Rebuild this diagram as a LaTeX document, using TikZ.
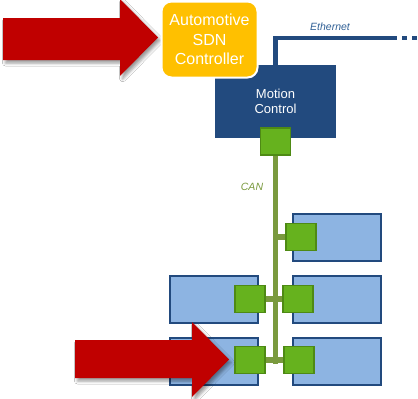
\documentclass[tikz,border=0pt]{standalone}
\usepackage{fontspec}
\setmainfont{Liberation Sans}
\usetikzlibrary{shadows.blur}
\definecolor{arrowred}{HTML}{C00000}
\definecolor{ctrlorange}{HTML}{FFC000}
\definecolor{darkblue}{HTML}{224A7E}
\definecolor{ecublue}{HTML}{8DB4E2}
\definecolor{portgreen}{HTML}{66B21E}
\definecolor{portedge}{HTML}{4E8A14}
\definecolor{busgreen}{HTML}{7A9A3E}
\definecolor{ethlabel}{HTML}{2F5F95}
\tikzset{
  bigarrow/.style={fill=arrowred, blur shadow={shadow xshift=2.5pt, shadow yshift=-3pt, shadow blur radius=3pt, shadow opacity=40}},
  ecu/.style={draw=darkblue, fill=ecublue, line width=1.5pt, minimum width=88pt, minimum height=47pt, inner sep=0pt},
  port/.style={draw=portedge, fill=portgreen, line width=1.5pt, minimum width=30pt, minimum height=27pt, inner sep=0pt},
  canbus/.style={draw=busgreen, line width=5.5pt},
  ethline/.style={draw=darkblue, line width=4.5pt},
}
\begin{document}
\begin{tikzpicture}[x=1pt, y=-1pt]
\useasboundingbox (0,0) rectangle (418,399);
\fill[white] (0,0) rectangle (418,399);

% Motion control unit and its Ethernet uplink
\node[fill=darkblue, minimum width=121pt, minimum height=73pt, inner sep=0pt,
      text=white, align=center, font=\fontsize{13}{15}\selectfont] (mc) at (275.5,101.5) {Motion\\Control};
\coordinate (ethcorner) at (275.5,38);
\coordinate (ethend) at (381,38);
\coordinate (ethout) at (418,38);
\draw[ethline] (mc.north) -- (ethcorner) -- (ethend);
\draw[ethline, dash pattern=on 16pt off 5pt on 5pt off 5pt on 5pt off 5pt] (ethend) -- (ethout);
\node[text=ethlabel, font=\fontsize{10.5}{12}\selectfont\itshape] (ethlbl) at (330,27) {Ethernet};

% CAN bus
\node[port] (p0) at (275.5,141.5) {};
\coordinate (busend) at (275.5,364);
\draw[canbus] (p0.south) -- (busend);
\node[text=busgreen, font=\fontsize{10.5}{12}\selectfont\itshape] (canlbl) at (252,187) {CAN};

% ECUs
\node[ecu] (r1) at (337,237.5) {};
\node[ecu] (r2) at (337,299.5) {};
\node[ecu] (r3) at (337,361.5) {};
\node[ecu] (l2) at (214,299.5) {};
\node[ecu] (l3) at (214,361.5) {};

% bus ports, with their stubs drawn underneath
\coordinate (s1) at (301,237);
\coordinate (s2r) at (298,299);
\coordinate (s2l) at (250,299);
\coordinate (s3l) at (250,360);
\coordinate (s3r) at (299,360);
\draw[canbus] (s1) -- (s1 -| p0.south);
\draw[canbus] (s2l) -- (s2r);
\draw[canbus] (s3l) -- (s3r);
\node[port] (q1) at (s1) {};
\node[port] (q2r) at (s2r) {};
\node[port] (q2l) at (s2l) {};
\node[port] (q3l) at (s3l) {};
\node[port] (q3r) at (s3r) {};

% pointer arrows
\fill[bigarrow] (3,18) -- (120,18) -- (120,-1) -- (158,37.5) -- (120,76) -- (120,60) -- (3,60) -- cycle;
\fill[bigarrow] (75,340) -- (192,340) -- (192,322) -- (229,359.5) -- (192,397) -- (192,378) -- (75,378) -- cycle;

% SDN controller
\node[fill=ctrlorange, draw=white, line width=2pt, rounded corners=10pt,
      minimum width=96pt, minimum height=76pt, inner sep=0pt,
      text=white, align=center, font=\fontsize{16}{19.5}\selectfont] (sdn) at (209.5,39.5) {Automotive\\SDN\\Controller};
\end{tikzpicture}
\end{document}
